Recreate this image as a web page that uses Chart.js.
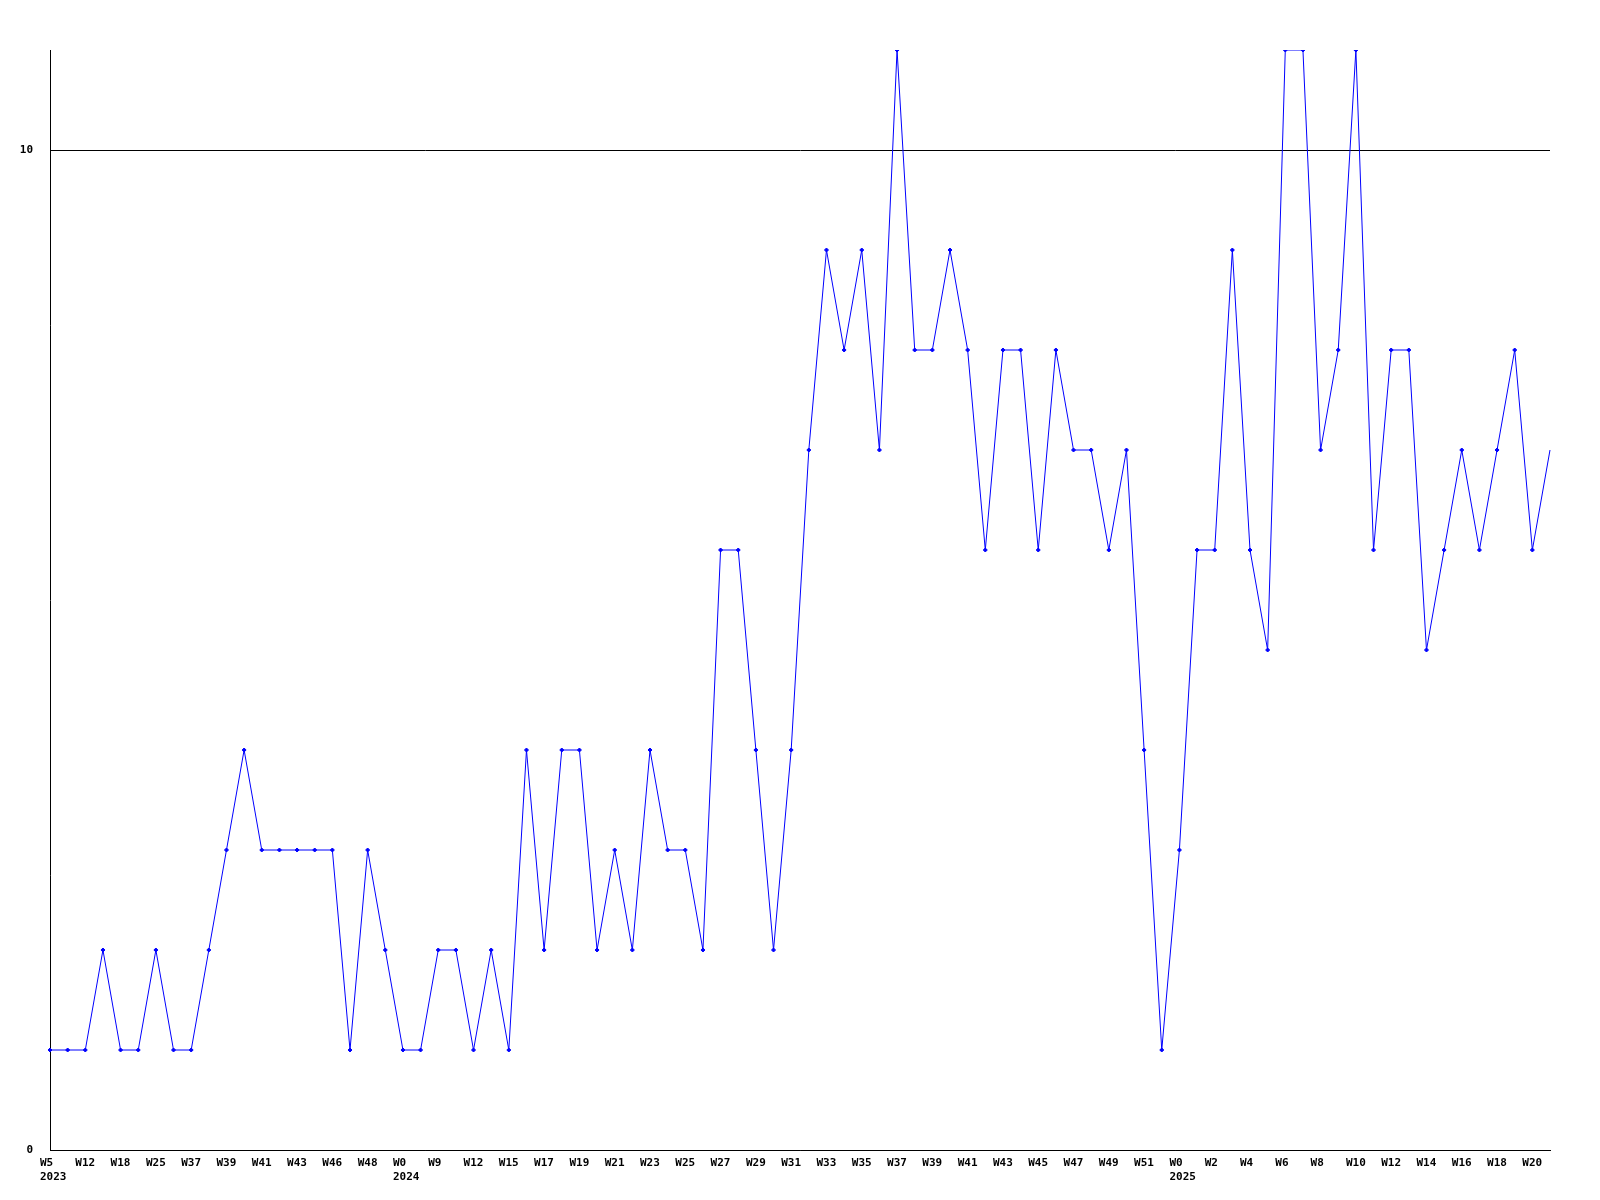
<!DOCTYPE html>
<html>
<head>
<meta charset="utf-8">
<script src="https://cdn.jsdelivr.net/npm/chart.js@4.4.1/dist/chart.umd.min.js"></script>
<style>
  body { margin: 0; background: #fff; }
  canvas { display: block; }
</style>
</head>
<body>
<canvas id="weekChart" width="1600" height="1200"></canvas>
<script>
// week of each point (only every other one is printed on the axis)
var weeks = ['W5','W8','W12','W15','W18','W21','W25','W30','W37','W38',
  'W39','W40','W41','W42','W43','W45','W46','W47','W48','W50',
  'W0','W5','W9','W10','W12','W14','W15','W16','W17','W18',
  'W19','W20','W21','W22','W23','W24','W25','W26','W27','W28',
  'W29','W30','W31','W32','W33','W34','W35','W36','W37','W38',
  'W39','W40','W41','W42','W43','W44','W45','W46','W47','W48',
  'W49','W50','W51','W52','W0','W1','W2','W3','W4','W5',
  'W6','W7','W8','W9','W10','W11','W12','W13','W14','W15',
  'W16','W17','W18','W19','W20','W21'];
var years = [];
for (var i = 0; i < 86; i++) {
  years.push(i < 20 ? '2023' : (i < 64 ? '2024' : '2025'));
}
var counts = [1,1,1,2,1,1,2,1,1,2,
  3,4,3,3,3,3,3,1,3,2,
  1,1,2,2,1,2,1,4,2,4,
  4,2,3,2,4,3,3,2,6,6,
  4,2,4,7,9,8,9,7,11,8,
  8,9,8,6,8,8,6,8,7,7,
  6,7,4,1,3,6,6,9,6,5,
  11,11,7,8,11,6,8,8,5,6,
  7,6,7,8,6,7];
var yTicks = [0, 10];

var labelFont = { family: 'DejaVu Sans Mono', size: 11, weight: 'bold', lineHeight: '14px' };

var ctx = document.getElementById('weekChart').getContext('2d');
var weekChart = new Chart(ctx, {
  type: 'line',
  data: {
    labels: weeks,
    datasets: [{
      data: counts,
      borderColor: '#0000ff',
      borderWidth: 1,
      backgroundColor: '#0000ff',
      pointBackgroundColor: '#0000ff',
      pointBorderColor: '#0000ff',
      pointStyle: 'rectRot',
      pointRadius: function (c) { return c.dataIndex === counts.length - 1 ? 0 : 2; },
      pointBorderWidth: 1,
      tension: 0,
      fill: false
    }]
  },
  options: {
    responsive: false,
    animation: false,
    devicePixelRatio: 1,
    layout: { padding: { top: 50, right: 50, left: 0, bottom: 0 } },
    plugins: {
      legend: { display: false },
      tooltip: { enabled: false }
    },
    scales: {
      x: {
        offset: false,
        grid: { display: false },
        border: { display: true, color: '#000', width: 1 },
        ticks: {
          autoSkip: false,
          maxRotation: 0,
          minRotation: 0,
          align: 'start',
          labelOffset: -10,
          padding: -2,
          color: '#000',
          font: labelFont,
          callback: function (val, idx) {
            if (idx % 2 !== 0) return '';
            if (idx === 0 || years[idx] !== years[idx - 1]) return [weeks[idx], years[idx]];
            return weeks[idx];
          }
        },
        afterFit: function (axis) { axis.height = 50; }
      },
      y: {
        min: 0,
        max: 11,
        grid: { display: true, color: '#000', lineWidth: 1, drawTicks: false },
        border: { display: true, color: '#000', width: 1 },
        ticks: {
          padding: 17,
          color: '#000',
          font: labelFont
        },
        afterBuildTicks: function (axis) {
          axis.ticks = yTicks.map(function (v) { return { value: v }; });
        },
        afterFit: function (axis) { axis.width = 50; }
      }
    }
  }
});
</script>
</body>
</html>
